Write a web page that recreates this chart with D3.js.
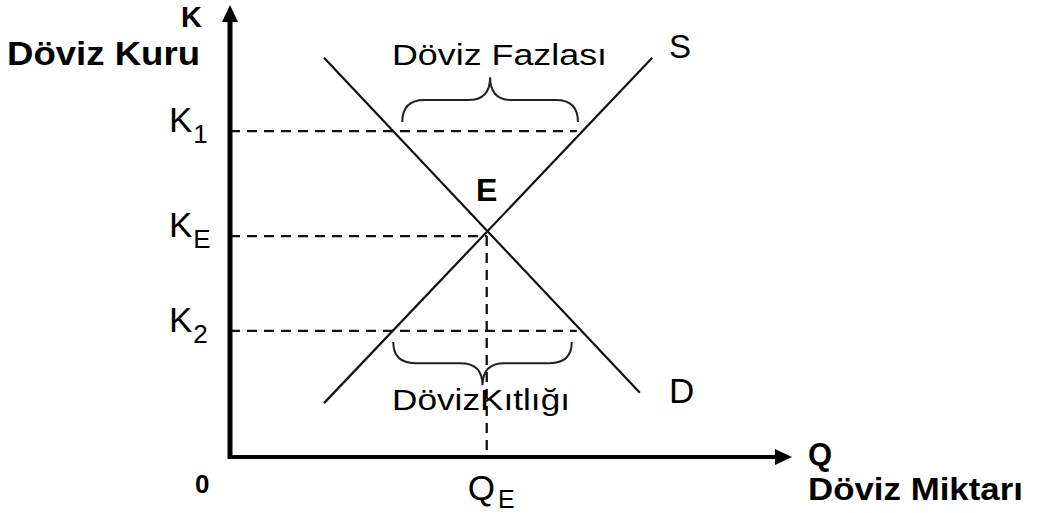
<!DOCTYPE html>
<html>
<head>
<meta charset="utf-8">
<script src="https://cdn.jsdelivr.net/npm/d3@7"></script>
<style>
  body { margin: 0; background: #fff; }
  svg { display: block; font-family: "Liberation Sans", Arial, sans-serif; }
</style>
</head>
<body>
<div id="chart"></div>
<script>
// curve end points (Q, K) in chart units 0..100
var demandQ = [16.7, 72.8];
var demandK = [88.9, 14.3];
var supplyQ = [16.7, 75.0];
var supplyK = [12.0, 88.9];

// price levels on the K axis
var levelSubs = ["1", "E", "2"];
var levelK = [72.6, 49.2, 28.1];
var levelEndQ = [61.6, 45.6, 61.6];

var qE = 45.6;
var kE = 50.6;

// braces: [qStart, qEnd, kEnds, kFlat, kTip]
var braceNames = ["Döviz Fazlası", "DövizKıtlığı"];
var braceQ0 = [30.6, 29.0];
var braceQ1 = [61.8, 60.7];
var braceKEnd = [74.6, 25.6];
var braceKFlat = [79.5, 20.9];
var braceKTip = [84.6, 16.0];

var width = 1041, height = 513;

var x = d3.scaleLinear().domain([0, 100]).range([230, 793]);
var y = d3.scaleLinear().domain([0, 100]).range([457, 8]);

var svg = d3.select("#chart").append("svg")
    .attr("width", width)
    .attr("height", height);

//guide dashes
var dash = "10,7";
levelK.forEach(function(k, i) {
  svg.append("line")
    .attr("x1", x(0)).attr("x2", x(levelEndQ[i]))
    .attr("y1", y(k)).attr("y2", y(k))
    .attr("stroke", "#111").attr("stroke-width", 2.3)
    .attr("stroke-dasharray", dash);
});
svg.append("line")
  .attr("x1", x(qE)).attr("x2", x(qE))
  .attr("y1", y(levelK[1])).attr("y2", y(0))
  .attr("stroke", "#111").attr("stroke-width", 2.3)
  .attr("stroke-dasharray", dash);

//supply and demand
var line = d3.line().x(function(d) { return x(d[0]); }).y(function(d) { return y(d[1]); });
svg.append("path")
  .attr("d", line(d3.zip(demandQ, demandK)))
  .attr("stroke", "#111").attr("stroke-width", 2.2).attr("fill", "none");
svg.append("path")
  .attr("d", line(d3.zip(supplyQ, supplyK)))
  .attr("stroke", "#111").attr("stroke-width", 2.2).attr("fill", "none");

//braces
function bracePath(i) {
  var x0 = x(braceQ0[i]), x1 = x(braceQ1[i]), xm = (x0 + x1) / 2;
  var ye = y(braceKEnd[i]), yf = y(braceKFlat[i]), yt = y(braceKTip[i]);
  var r = 22;
  var p = d3.path();
  p.moveTo(x0, ye);
  p.quadraticCurveTo(x0, yf, x0 + r, yf);
  p.lineTo(xm - r, yf);
  p.quadraticCurveTo(xm, yf, xm, yt);
  p.quadraticCurveTo(xm, yf, xm + r, yf);
  p.lineTo(x1 - r, yf);
  p.quadraticCurveTo(x1, yf, x1, ye);
  return p.toString();
}
braceNames.forEach(function(n, i) {
  svg.append("path")
    .attr("d", bracePath(i))
    .attr("stroke", "#222").attr("stroke-width", 2).attr("fill", "none");
});

svg.append("text")
  .attr("x", 392).attr("y", 65)
  .attr("font-size", 29)
  .attr("textLength", 215).attr("lengthAdjust", "spacingAndGlyphs")
  .text(braceNames[0]);
svg.append("text")
  .attr("x", 392).attr("y", 410)
  .attr("font-size", 30)
  .attr("textLength", 178).attr("lengthAdjust", "spacingAndGlyphs")
  .text(braceNames[1]);

//axes
svg.append("line")
  .attr("x1", x(0)).attr("x2", x(0))
  .attr("y1", y(0) + 2).attr("y2", 20)
  .attr("stroke", "#000").attr("stroke-width", 5);
svg.append("path")
  .attr("d", "M" + (x(0) - 8) + ",22L" + (x(0) + 8) + ",22L" + x(0) + ",5Z")
  .attr("fill", "#000");
svg.append("line")
  .attr("x1", x(0) - 2).attr("x2", 777)
  .attr("y1", y(0)).attr("y2", y(0))
  .attr("stroke", "#000").attr("stroke-width", 4);
svg.append("path")
  .attr("d", "M775," + (y(0) - 8) + "L775," + (y(0) + 8) + "L792," + y(0) + "Z")
  .attr("fill", "#000");

//axis titles
svg.append("text")
  .attr("x", 202).attr("y", 27)
  .attr("text-anchor", "end")
  .attr("font-size", 29).attr("font-weight", "bold")
  .text("K");
svg.append("text")
  .attr("x", 7).attr("y", 65)
  .attr("font-size", 33).attr("font-weight", "bold")
  .attr("textLength", 193).attr("lengthAdjust", "spacingAndGlyphs")
  .text("Döviz Kuru");
svg.append("text")
  .attr("x", 808).attr("y", 465)
  .attr("font-size", 31).attr("font-weight", "bold")
  .text("Q");
svg.append("text")
  .attr("x", 808).attr("y", 500)
  .attr("font-size", 32).attr("font-weight", "bold")
  .attr("textLength", 215).attr("lengthAdjust", "spacingAndGlyphs")
  .text("Döviz Miktarı");
svg.append("text")
  .attr("x", 195).attr("y", 493)
  .attr("font-size", 26).attr("font-weight", "bold")
  .text("0");

//K levels
levelK.forEach(function(k, i) {
  var t = svg.append("text")
    .attr("x", 169).attr("y", y(k) + 1)
    .attr("font-size", 35);
  t.append("tspan").text("K");
  t.append("tspan")
    .attr("font-size", 26)
    .attr("dx", 1).attr("dy", 11)
    .text(levelSubs[i]);
});

//Q_E
var qt = svg.append("text")
  .attr("x", x(qE) - 19).attr("y", 500)
  .attr("font-size", 35);
qt.append("tspan").text("Q");
qt.append("tspan").attr("font-size", 25).attr("dx", 3).attr("dy", 8).text("E");

//curve labels
svg.append("text")
  .attr("x", 669).attr("y", 58)
  .attr("font-size", 33)
  .text("S");
svg.append("text")
  .attr("x", 669).attr("y", 403)
  .attr("font-size", 35)
  .text("D");
svg.append("text")
  .attr("x", x(qE)).attr("y", y(kE) - 29)
  .attr("text-anchor", "middle")
  .attr("font-size", 32).attr("font-weight", "bold")
  .text("E");
</script>
</body>
</html>
